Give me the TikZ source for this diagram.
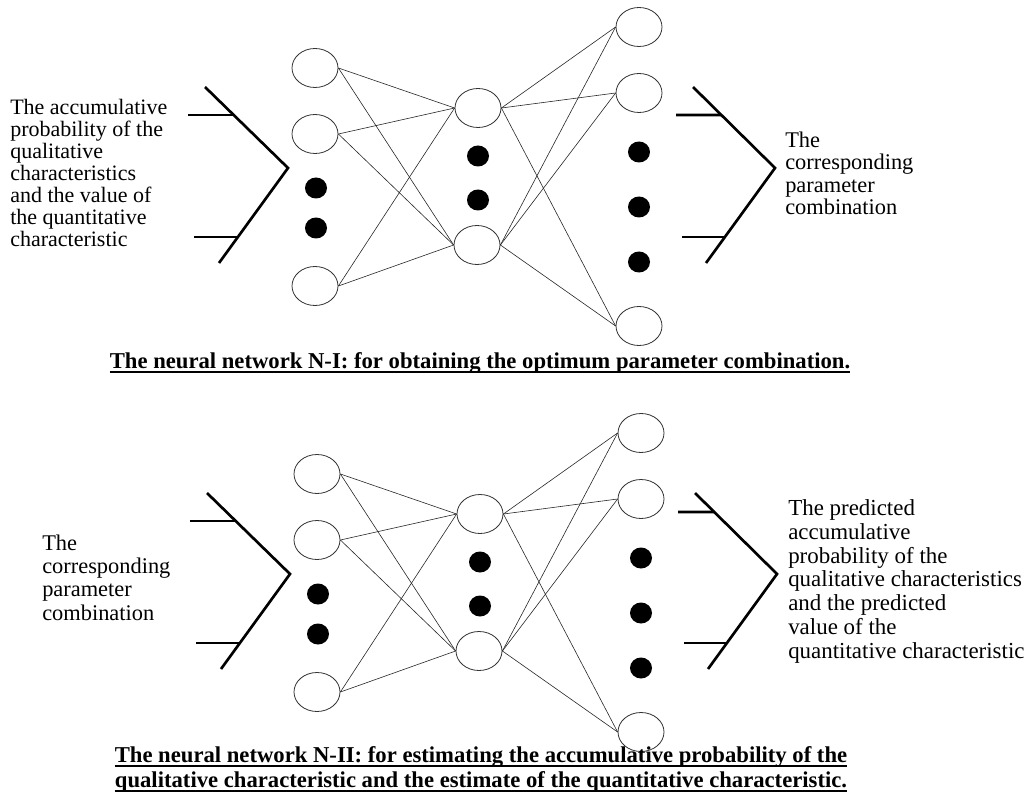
\documentclass[tikz,border=0pt]{standalone}
\usepackage{fontspec}
\setmainfont{Liberation Serif}
\usetikzlibrary{shapes.geometric,calc}
\tikzset{
  unit/.style={draw=black!80, line width=0.6pt, ellipse, minimum width=34.5pt, minimum height=29.25pt, inner sep=0pt},
  dotnode/.style={fill=black, ellipse, minimum width=16.5pt, minimum height=15.75pt, inner sep=0pt},
  link/.style={draw=black!85, line width=0.45pt},
  brace/.style={draw=black, line width=2pt},
  txt/.style={anchor=base west, align=left, inner sep=0pt},
  capt/.style={anchor=base, inner sep=0pt, font=\bfseries\fontsize{17}{18}\selectfont},
  uline/.style={draw=black, line width=1.4pt}
}
\begin{document}
\begin{tikzpicture}[x=0.75pt,y=-0.75pt]
\useasboundingbox (0,0) rectangle (1027,802);
\foreach \p/\dx/\dy/\ty in {a/0/0/115, b/2/406/106} {
  \begin{scope}[shift={(\dx,\dy)}]
    % input layer
    \node[unit] (\p i1) at (315,68) {};
    \node[unit] (\p i2) at (315,134) {};
    \node[dotnode] (\p id1) at (316,188) {};
    \node[dotnode] (\p id2) at (316,228) {};
    \node[unit] (\p i3) at (315,286) {};
    % hidden layer
    \node[unit] (\p h1) at (478,108) {};
    \node[dotnode] (\p hd1) at (478,156) {};
    \node[dotnode] (\p hd2) at (478,200) {};
    \node[unit] (\p h2) at (477,245) {};
    % output layer
    \node[unit] (\p o1) at (639,27) {};
    \node[unit] (\p o2) at (639,93) {};
    \node[dotnode] (\p od1) at (639,152) {};
    \node[dotnode] (\p od2) at (639,207) {};
    \node[dotnode] (\p od3) at (639,262) {};
    \node[unit] (\p o3) at (639,326) {};
    % connections
    \foreach \s in {i1,i2,i3} {
      \draw[link] (\p\s.east) -- (\p h1.west);
      \draw[link] (\p\s.east) -- (\p h2.west);
    }
    \foreach \t in {o1,o2,o3} {
      \draw[link] (\p h1.east) -- (\p\t.west);
      \draw[link] (\p h2.east) -- (\p\t.west);
    }
    % left bracket
    \draw[brace] (205,87) -- (288,168) -- (219,263);
    \draw[brace] (188,115) -- (233.7,115);
    \draw[brace] (194,237) -- (237.9,237);
    % right bracket
    \draw[brace] (693,87) -- (775,168) -- (706,263);
    \draw[brace] (676,\ty) -- ($(693,87)!{(\ty-87)/81}!(775,168)$);
    \draw[brace] (682,237) -- (724.8,237);
  \end{scope}
}
% texts (anchored at the baseline of their last line)
\node[txt, font=\fontsize{16.5}{16.5}\selectfont] (tl) at (10,247)
  {The accumulative\\probability of the\\qualitative\\characteristics\\and the value of\\the quantitative\\characteristic};
\node[txt, font=\fontsize{16.8}{17}\selectfont] (tr) at (785,215)
  {The\\corresponding\\parameter\\combination};
\node[txt, font=\fontsize{16.8}{17.5}\selectfont] (bl) at (42,620)
  {The\\corresponding\\parameter\\combination};
\node[txt, font=\fontsize{17.2}{17.8}\selectfont] (br) at (788,658)
  {The predicted\\accumulative\\probability of the\\qualitative characteristics\\and the predicted\\value of the\\quantitative characteristic};
% captions
\node[capt] (cap1) at (480,368) {The neural network N-I: for obtaining the optimum parameter combination.};
\draw[uline] ([yshift=-3pt]cap1.base west) -- ([yshift=-3pt]cap1.base east);
\node[capt] (cap2) at (481,762) {The neural network N-II: for estimating the accumulative probability of the};
\draw[uline] ([yshift=-3pt]cap2.base west) -- ([yshift=-3pt]cap2.base east);
\node[capt] (cap3) at (481,787) {qualitative characteristic and the estimate of the quantitative characteristic.};
\draw[uline] ([yshift=-3pt]cap3.base west) -- ([yshift=-3pt]cap3.base east);
\end{tikzpicture}
\end{document}
